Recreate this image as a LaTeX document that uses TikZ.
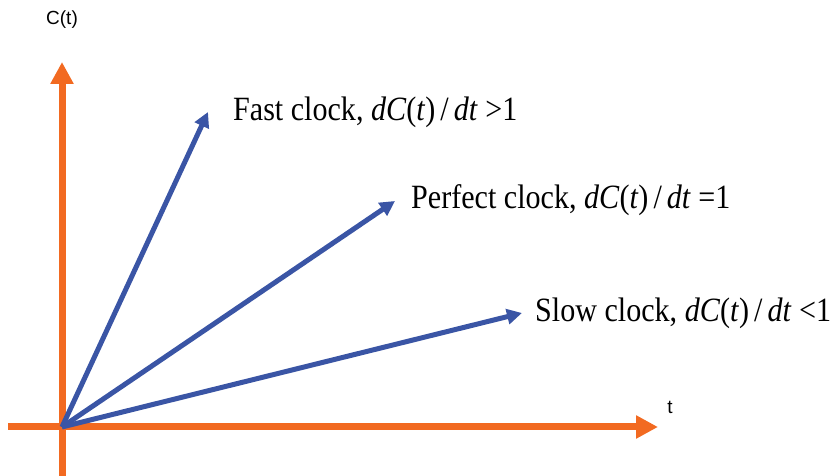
\documentclass[tikz,border=0pt]{standalone}
\usepackage{fontspec}
\setmainfont{Liberation Serif}
\newfontfamily\axisfont{Liberation Sans}
\usepackage{tikz}
\usetikzlibrary{arrows.meta,positioning}
\definecolor{axisorange}{HTML}{F26A21}
\definecolor{clockblue}{HTML}{3A55A5}
\tikzset{
  axis/.style={line width=7pt, draw=axisorange, -{Triangle[length=22pt,width=22pt]}},
  clockline/.style={line width=5pt, draw=clockblue, -{Triangle[length=15pt,width=15pt]}},
  clocklabel/.style={font=\fontsize{34}{38}\selectfont, anchor=west, inner sep=0pt, xscale=0.885},
  axislabel/.style={font=\axisfont\fontsize{19}{22}\selectfont, inner sep=0pt}
}
\begin{document}
\begin{tikzpicture}[x=1pt,y=1pt]
\useasboundingbox (0,0) rectangle (836,476);

\coordinate (origin) at (62,49);
\coordinate (ybot) at (62,0);
\coordinate (ytop) at (62,414);
\coordinate (xleft) at (8,49);
\coordinate (xright) at (658,49);

\draw[axis] (ybot) -- (ytop);
\draw[axis] (xleft) -- (xright);
\node[axislabel] (clabel) at (62,456) {C(t)};
\node[axislabel] (tlabel) at (670,69) {t};

\coordinate (fast) at (208,364);
\coordinate (perfect) at (395,275);
\coordinate (slow) at (522,163);
\draw[clockline] (origin) -- (fast);
\draw[clockline] (origin) -- (perfect);
\draw[clockline] (origin) -- (slow);

\node[clocklabel] (fastlabel) at (233,364) {Fast clock, \textit{dC}(\textit{t})\,/\,\textit{dt} {>}1};
\node[clocklabel] (perfectlabel) at (411,276) {Perfect clock, \textit{dC}(\textit{t})\,/\,\textit{dt} {=}1};
\node[clocklabel] (slowlabel) at (535,163) {Slow clock, \textit{dC}(\textit{t})\,/\,\textit{dt} {<}1};
\end{tikzpicture}
\end{document}
